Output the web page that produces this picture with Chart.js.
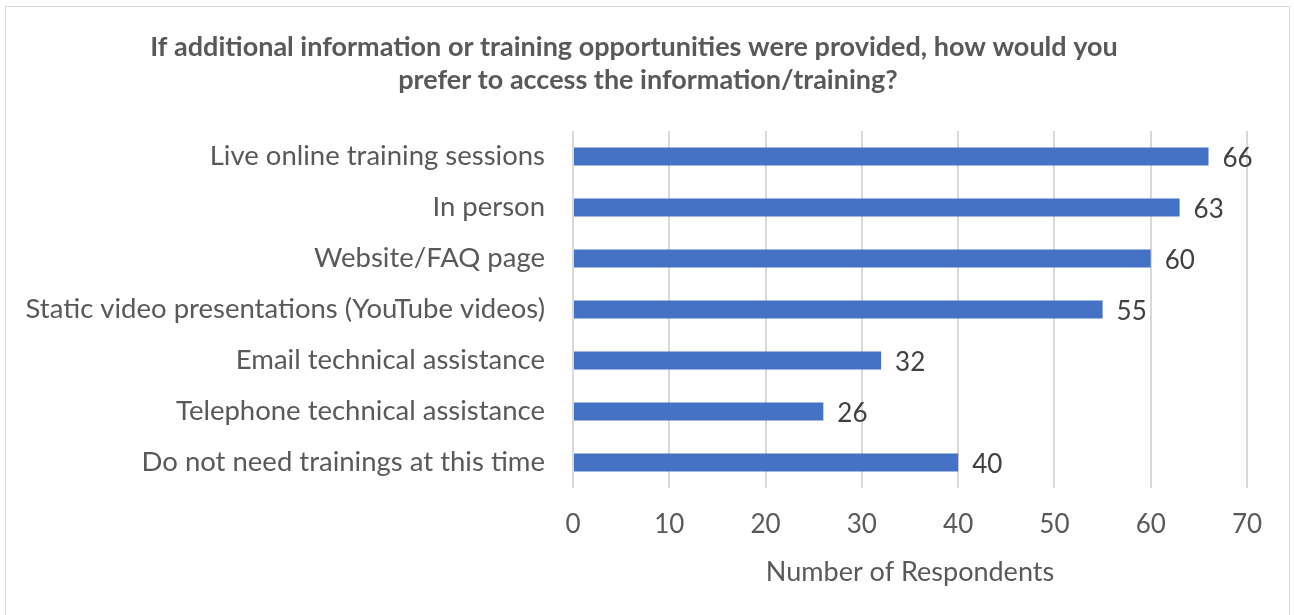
<!DOCTYPE html>
<html><head><meta charset="utf-8">
<script src="https://cdn.jsdelivr.net/npm/chart.js@4.4.1/dist/chart.umd.min.js"></script>
<style>
html,body{margin:0;padding:0;background:#fff;}
#wrap{position:absolute;left:0;top:0;width:1294px;height:615px;overflow:hidden;}
#frame{position:absolute;left:5px;top:6px;width:1285px;height:620px;border:1.5px solid #d9d9d9;box-sizing:border-box;}
canvas{position:absolute;left:0;top:0;}
</style></head>
<body>
<div id="wrap"><div id="frame"></div><canvas id="c" width="1294" height="615"></canvas></div>
<script>
const categories = [
  "Live online training sessions",
  "In person",
  "Website/FAQ page",
  "Static video presentations (YouTube videos)",
  "Email technical assistance",
  "Telephone technical assistance",
  "Do not need trainings at this time"
];
const respondents = [66, 63, 60, 55, 32, 26, 40];
const titleLines = ["If additional information or training opportunities were provided, how would you", "prefer to access the information/training?"];
const axisTitle = "Number of Respondents";

const FONT = "Lato, 'Open Sans', sans-serif";

const titlePlugin = {
  id: 'twoLineTitle',
  afterDraw(chart) {
    const ctx = chart.ctx;
    ctx.save();
    ctx.font = "bold 27px " + FONT;
    ctx.fillStyle = "#595959";
    ctx.textAlign = "center";
    ctx.textBaseline = "middle";
    ctx.fillText(titleLines[0], 634, 47);
    ctx.fillText(titleLines[1], 648, 80);
    ctx.restore();
  }
};

const dataLabels = {
  id: 'dataLabels',
  afterDatasetsDraw(chart) {
    const ctx = chart.ctx;
    const meta = chart.getDatasetMeta(0);
    ctx.save();
    ctx.font = "26px " + FONT;
    ctx.fillStyle = "#404040";
    ctx.textAlign = "left";
    ctx.textBaseline = "middle";
    meta.data.forEach((bar, i) => {
      ctx.fillText(String(respondents[i]), bar.x + 14, bar.y + 2);
    });
    ctx.restore();
  }
};

new Chart(document.getElementById('c'), {
  type: 'bar',
  data: {
    labels: categories,
    datasets: [{
      data: respondents,
      backgroundColor: '#4472C4',
      borderWidth: 0,
      categoryPercentage: 1.0,
      barPercentage: 0.353
    }]
  },
  options: {
    indexAxis: 'y',
    responsive: false,
    animation: false,
    layout: { padding: { left: 0, right: 47, top: 131, bottom: 27 } },
    plugins: {
      legend: { display: false },
      tooltip: { enabled: false },
      title: { display: false }
    },
    scales: {
      x: {
        min: 0, max: 70,
        afterFit(scale) { scale.height = 100; },
        ticks: { stepSize: 10, color: '#595959', font: { family: FONT, size: 26 }, padding: 21 },
        grid: { color: '#d9d9d9', lineWidth: 2, drawTicks: false },
        border: { display: false },
        title: { display: true, text: axisTitle, color: '#595959', font: { family: FONT, size: 27 }, padding: 0 }
      },
      y: {
        afterFit(scale) { scale.width = 573; },
        ticks: { color: '#595959', font: { family: FONT, size: 27.5 }, padding: 28 },
        grid: { display: false, drawTicks: false },
        border: { display: false }
      }
    }
  },
  plugins: [dataLabels, titlePlugin]
});
</script>
</body></html>
